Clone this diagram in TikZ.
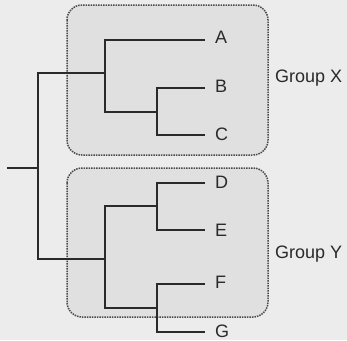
\documentclass[tikz,border=0pt]{standalone}
\usepackage{tkz-euclide}
\usepackage{tikz}
\usepackage{fontspec}
\setsansfont{Liberation Sans}
\definecolor{paper}{HTML}{ECECEC}
\definecolor{boxfill}{HTML}{E0E0E0}
\definecolor{ink}{HTML}{2A2A2A}

\tikzset{
  groupbox/.style={draw=ink!85, fill=boxfill, line width=1.5pt,
    dash pattern=on 1.5pt off 1pt, rounded corners=15pt},
  leaf/.style={anchor=west, inner xsep=10pt, inner ysep=0pt, text=ink,
    font=\sffamily\fontsize{18}{20}\selectfont},
  grouplabel/.style={anchor=west, inner sep=0pt, text=ink,
    font=\sffamily\fontsize{18}{20}\selectfont},
  branch/.style={line width=2.3pt, color=ink, line join=miter}
}

\begin{document}
\begin{tikzpicture}[x=1pt, y=-1pt]
    \fill[paper] (0,0) rectangle (347,340);
    \useasboundingbox (0,0) rectangle (347,340);
    % the two groups
    \draw[groupbox] (67,5) rectangle (268,155);
    \draw[groupbox] (67,168) rectangle (268,317);
    \node[grouplabel] (gx) at (275,78) {Group X};
    \node[grouplabel] (gy) at (275,254) {Group Y};
    % points of the tree
    \tkzDefPoints{7/168/s,38/168/r,38/73/t1,38/259/t2,105/73/xm,105/259/ym}
    \tkzDefPoints{105/40/xa,105/112/xb,157/112/bc,157/88/bt,157/135/ct}
    \tkzDefPoints{105/206/yt,105/308/yb,157/206/de,157/308/fg}
    \tkzDefPoints{157/183/dt,157/230/et,157/284/ft,157/332/gt}
    % leaves
    \node[leaf] (A) at (205,37) {A};
    \node[leaf] (B) at (205,86) {B};
    \node[leaf] (C) at (205,134) {C};
    \node[leaf] (D) at (205,182) {D};
    \node[leaf] (E) at (205,230) {E};
    \node[leaf] (F) at (205,282) {F};
    \node[leaf] (G) at (205,331) {G};
    % branches
    \draw[branch] (s) -- (r);
    \draw[branch] (xm) -- (t1) -- (t2) -- (ym);
    \draw[branch] (A.west |- xa) -- (xa) -- (xb) -- (bc);
    \draw[branch] (B.west |- bt) -- (bt) -- (ct) -- (C.west |- ct);
    \draw[branch] (de) -- (yt) -- (yb) -- (fg);
    \draw[branch] (D.west |- dt) -- (dt) -- (et) -- (E.west |- et);
    \draw[branch] (F.west |- ft) -- (ft) -- (gt) -- (G.west |- gt);
\end{tikzpicture}
\end{document}
